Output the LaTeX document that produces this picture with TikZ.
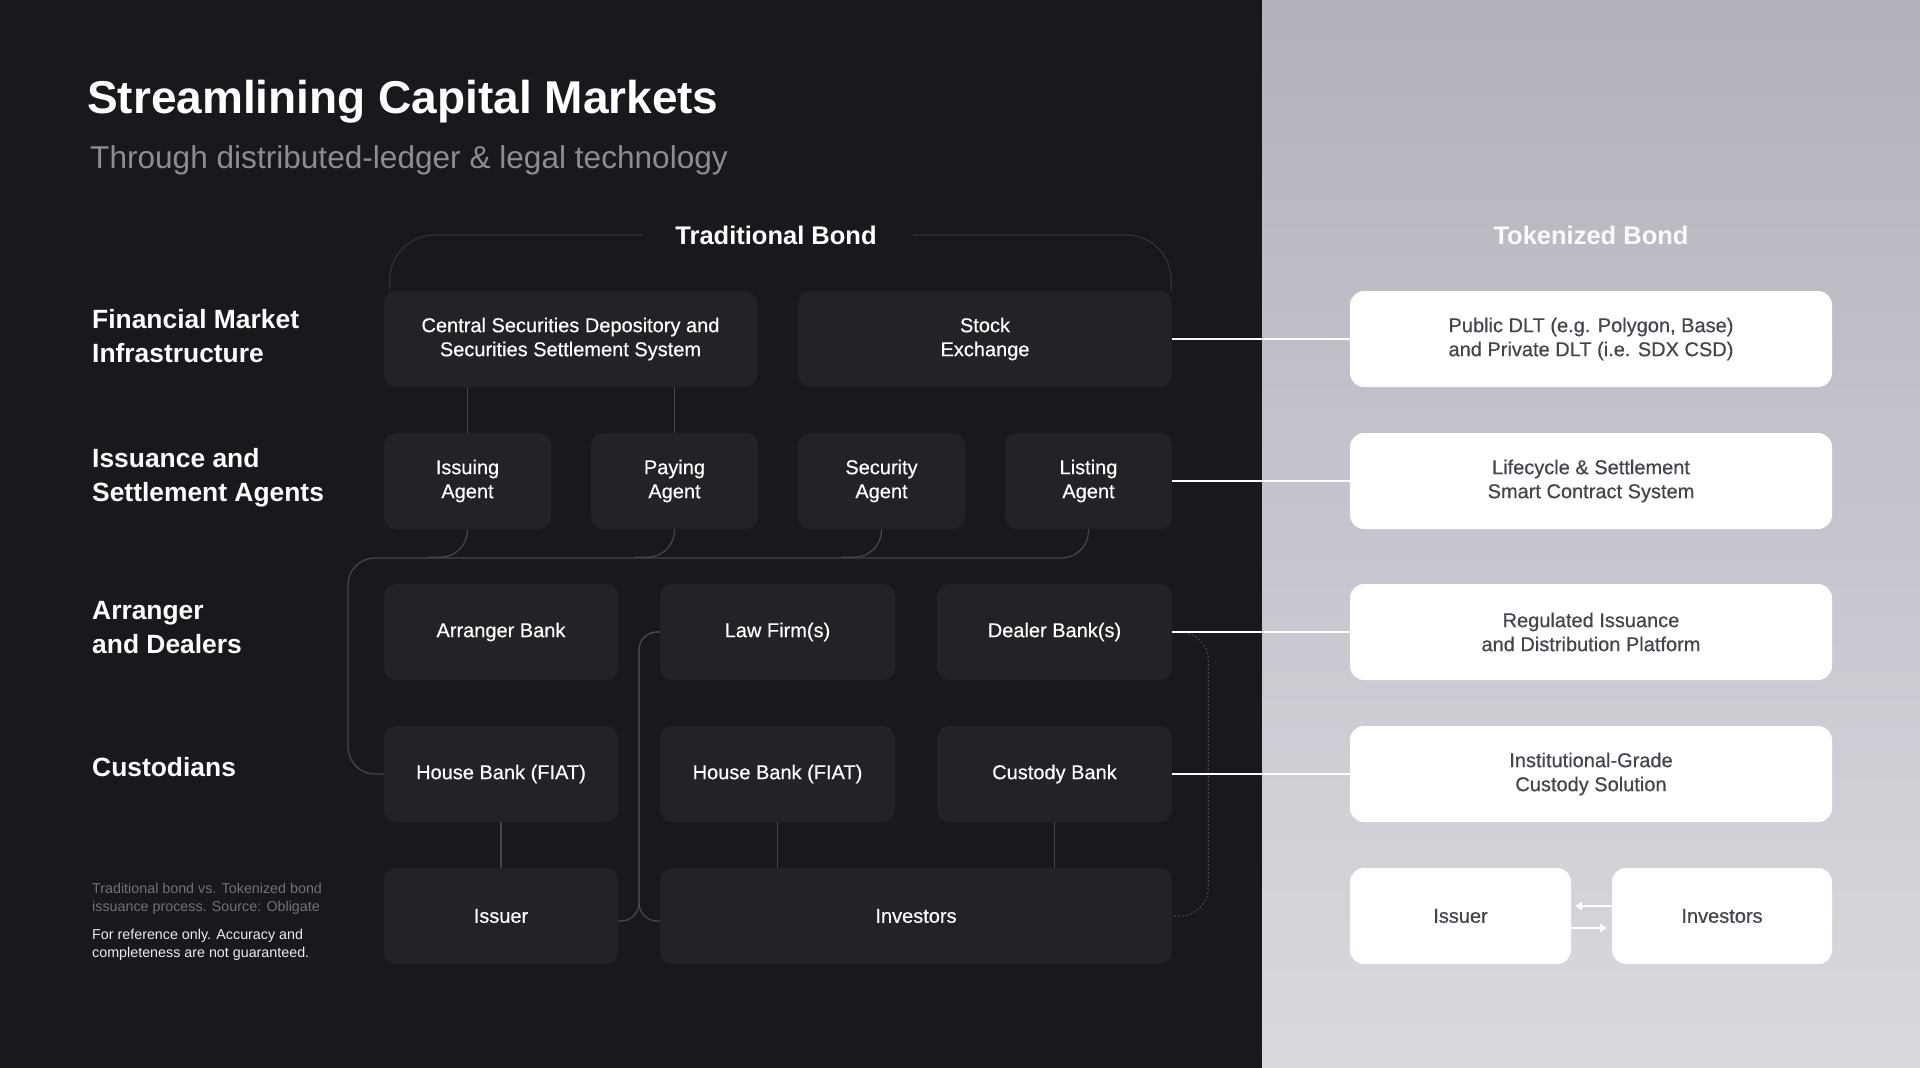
\documentclass[tikz,border=0pt]{standalone}
\usepackage{fontspec}
\setmainfont{Liberation Sans}
\newfontfamily\medfont{Liberation Sans}[FakeBold=0.45]
\usetikzlibrary{positioning,arrows.meta,calc}
\definecolor{bgdark}{HTML}{18191C}
\definecolor{boxdark}{HTML}{222327}
\definecolor{linegray}{HTML}{44454B}
\definecolor{bracketgray}{HTML}{303136}
\definecolor{subgray}{HTML}{8C8C92}
\definecolor{notegray}{HTML}{707177}
\definecolor{wtext}{HTML}{43444D}
\definecolor{paneltop}{HTML}{B2B2BC}
\definecolor{panelbot}{HTML}{D9DADF}

\begin{document}
\begin{tikzpicture}[x=1pt, y=-1pt,
    tbox/.style={fill=boxdark, rounded corners=12pt, minimum height=96pt, inner sep=0pt,
        align=center, text=white, font=\medfont\fontsize{20}{24}\selectfont},
    wbox/.style={tbox, fill=white, text=wtext, rounded corners=14pt, minimum width=482pt},
    rowlabel/.style={anchor=west, align=left, inner sep=0pt, text=white,
        font=\fontsize{26.4}{34}\selectfont\bfseries},
    link/.style={draw=linegray, line width=1.3pt},
    dotlink/.style={draw=linegray, line width=1.1pt, dash pattern=on 2pt off 2pt},
    bracket/.style={draw=bracketgray, line width=1.3pt},
    bridge/.style={draw=white, line width=2pt},
    ]
\useasboundingbox (0,0) rectangle (1920,1068);
\fill[bgdark] (0,0) rectangle (1262,1068);
\shade[top color=paneltop, bottom color=panelbot] (1262,0) rectangle (1920,1068);

\node[anchor=base west, inner sep=0pt, text=white, font=\fontsize{46}{52}\selectfont\bfseries]
    (title) at (87,113) {Streamlining Capital Markets};
\node[anchor=base west, inner sep=0pt, text=subgray, font=\fontsize{31.6}{36}\selectfont]
    (subtitle) at (90,168) {Through distributed-ledger \& legal technology};

\node[rowlabel] (fmi) at (92,336) {Financial Market\\Infrastructure};
\node[rowlabel] (isa) at (92,478) {Issuance and\\Settlement Agents};
\node[rowlabel] (ard) at (92,628) {Arranger\\and Dealers};
\node[rowlabel] (cst) at (92,767) {Custodians};

\node[anchor=west, align=left, inner sep=0pt, text=notegray, font=\fontsize{14.3}{18}\selectfont]
    (src) at (92,899) {Traditional bond vs. Tokenized bond\\issuance process. Source: Obligate};
\node[anchor=west, align=left, inner sep=0pt, text=white!85!gray, font=\fontsize{14.3}{18}\selectfont]
    (disc) at (92,945) {For reference only. Accuracy and\\completeness are not guaranteed.};

\node[tbox, minimum width=373pt] (csd) at (570.5,339) {Central Securities Depository and\\Securities Settlement System};
\node[tbox, minimum width=374pt] (exch) at (985,339) {Stock\\Exchange};

\node[tbox, minimum width=167pt] (issA) at (467.5,481) {Issuing\\Agent};
\node[tbox, minimum width=167pt] (payA) at (674.5,481) {Paying\\Agent};
\node[tbox, minimum width=167pt] (secA) at (881.5,481) {Security\\Agent};
\node[tbox, minimum width=167pt] (lstA) at (1088.5,481) {Listing\\Agent};

\node[tbox, minimum width=234pt] (arr) at (501,632) {Arranger Bank};
\node[tbox, minimum width=235pt] (law) at (777.5,632) {Law Firm(s)};
\node[tbox, minimum width=235pt] (dlr) at (1054.5,632) {Dealer Bank(s)};

\node[tbox, minimum width=234pt] (hbI) at (501,774) {House Bank (FIAT)};
\node[tbox, minimum width=235pt] (hbN) at (777.5,774) {House Bank (FIAT)};
\node[tbox, minimum width=235pt] (cust) at (1054.5,774) {Custody Bank};

\node[tbox, minimum width=234pt] (issr) at (501,916) {Issuer};
\node[tbox, minimum width=512pt] (invs) at (916,916) {Investors};

\node[inner sep=0pt, text=white, font=\fontsize{25.5}{30}\selectfont\bfseries] (trad) at (776,235) {Traditional Bond};
\node[inner sep=0pt, text=white!95!paneltop, font=\fontsize{25.5}{30}\selectfont\bfseries] (tok) at (1591,235) {Tokenized Bond};

\node[wbox] (dlt) at (1591,339) {Public DLT (e.g. Polygon, Base)\\and Private DLT (i.e. SDX CSD)};
\node[wbox] (life) at (1591,481) {Lifecycle \& Settlement\\Smart Contract System};
\node[wbox] (reg) at (1591,632) {Regulated Issuance\\and Distribution Platform};
\node[wbox] (cus) at (1591,774) {Institutional-Grade\\Custody Solution};
\node[wbox, minimum width=221pt] (tIss) at (1460.5,916) {Issuer};
\node[wbox, minimum width=220pt] (tInv) at (1722,916) {Investors};

\draw[bracket, rounded corners=45pt] ($(csd.north west)+(6,0)$) |- ($(trad.west)+(-32,0)$);
\draw[bracket, rounded corners=45pt] ($(exch.north east)+(-1,0)$) |- ($(trad.east)+(36,0)$);

\draw[link] (issA.north |- csd.south) -- (issA.north);
\draw[link] (payA.north |- csd.south) -- (payA.north);

\coordinate (bus) at (348,558);
\draw[link, rounded corners=27pt] (lstA.south) |- (bus) |- (hbI.west);
\foreach \n in {issA,payA,secA}
    \draw[link, rounded corners=27pt] (\n.south) |- ++(-40,28);

\coordinate (fork) at (639,921);
\draw[link, rounded corners=18pt] (law.west) -| (fork) -- (issr.east |- fork);
\draw[link, rounded corners=18pt] (law.west) -| (fork) -- (invs.west |- fork);

\draw[dotlink, rounded corners=28pt] (dlr.east) -- ++(36,0) |- (invs.east);

\draw[link] (hbI.south) -- (issr.north);
\draw[link] (hbN.south) -- (hbN.south |- invs.north);
\draw[link] (cust.south) -- (cust.south |- invs.north);

\foreach \a/\b in {exch/dlt, lstA/life, dlr/reg, cust/cus}
    \draw[bridge] (\a.east) -- (\b.west);

\draw[bridge, -{Triangle[length=7pt,width=8pt]}] ($(tInv.west)+(0,-10)$) -- ($(tIss.east)+(4,-10)$);
\draw[bridge, -{Triangle[length=7pt,width=8pt]}] ($(tIss.east)+(0,12)$) -- ($(tInv.west)+(-5,12)$);
\end{tikzpicture}
\end{document}
